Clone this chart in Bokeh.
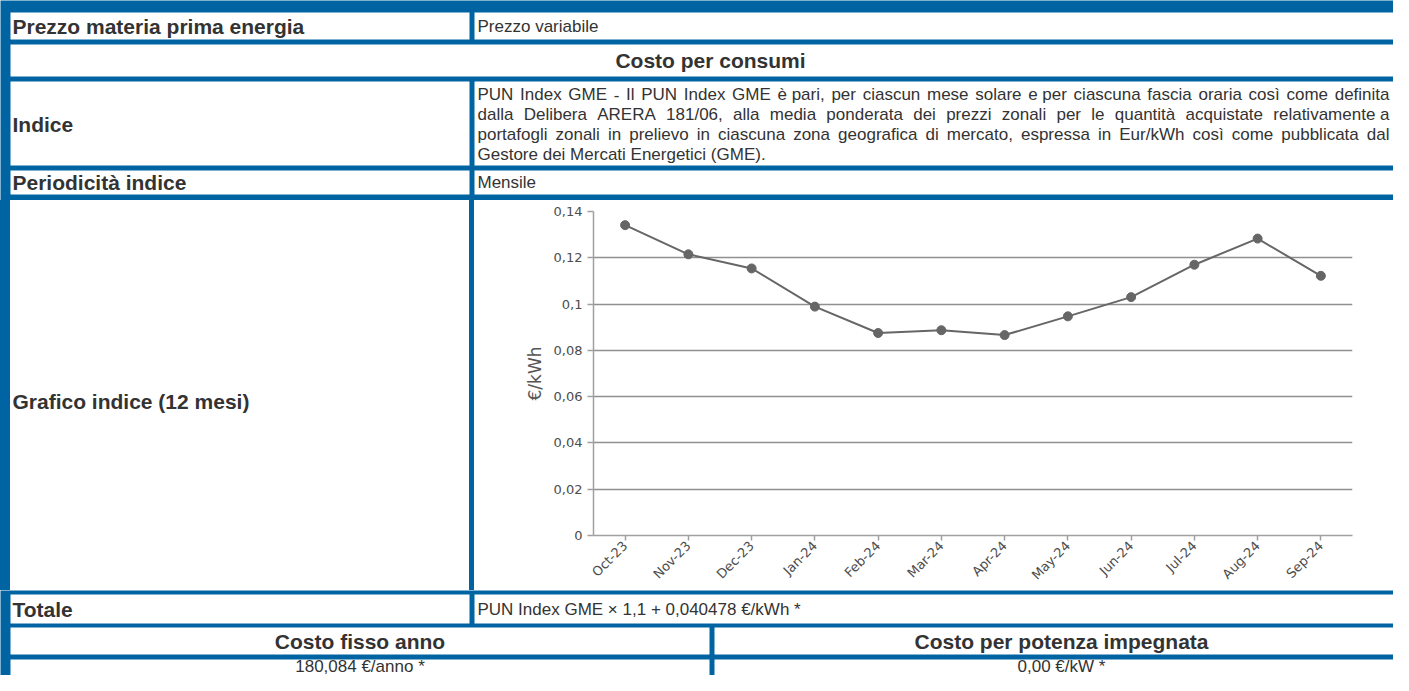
import math
from bokeh.plotting import figure
from bokeh.layouts import column, row
from bokeh.models import (Range1d, FactorRange, FixedTicker, CustomJSTickFormatter,
                          ColumnDataSource, Spacer)
from bokeh.core.properties import value
from bokeh.embed import file_html
from bokeh.resources import INLINE

# ---------------- data ----------------
months = ["Oct-23", "Nov-23", "Dec-23", "Jan-24", "Feb-24", "Mar-24",
          "Apr-24", "May-24", "Jun-24", "Jul-24", "Aug-24", "Sep-24"]
pun_values = [0.1341, 0.1215, 0.1154, 0.0989, 0.0875, 0.0887,
              0.0866, 0.0947, 0.1030, 0.1170, 0.1283, 0.1122]
y_ticks = [0.0, 0.02, 0.04, 0.06, 0.08, 0.10, 0.12, 0.14]
y_label = "€/kWh"

label_prezzo = "Prezzo materia prima energia"
value_prezzo = "Prezzo variabile"
header_consumi = "Costo per consumi"
label_indice = "Indice"
para_lines = [
    "PUN Index GME - Il PUN Index GME è pari, per ciascun mese solare e per ciascuna fascia oraria così come definita",
    "dalla Delibera ARERA 181/06, alla media ponderata dei prezzi zonali per le quantità acquistate relativamente a",
    "portafogli zonali in prelievo in ciascuna zona geografica di mercato, espressa in Eur/kWh così come pubblicata dal",
    "Gestore dei Mercati Energetici (GME).",
]
label_period = "Periodicità indice"
value_period = "Mensile"
label_grafico = "Grafico indice (12 mesi)"
label_totale = "Totale"
value_totale = "PUN Index GME × 1,1 + 0,040478 €/kWh *"
header_fisso = "Costo fisso anno"
header_potenza = "Costo per potenza impegnata"
value_fisso = "180,084 €/anno *"
value_potenza = "0,00 €/kW *"

# ---------------- style ----------------
BLUE = "#0064a3"
TXT = "#333333"
FONT = "Liberation Sans"
BOLD_SIZE = 21
REG_SIZE = 17
CHART_FONT = "DejaVu Sans"
W = 1393  # page width available

AW = {' ': 278, '!': 278, '(': 333, ')': 333, '*': 389, '+': 584, ',': 278, '-': 333,
      '.': 278, '/': 278, ':': 278, '×': 584, '€': 556,
      'A': 667, 'B': 667, 'C': 722, 'D': 722, 'E': 667, 'F': 611, 'G': 778, 'H': 722,
      'I': 278, 'J': 500, 'K': 667, 'L': 556, 'M': 833, 'N': 722, 'O': 778, 'P': 667,
      'Q': 778, 'R': 722, 'S': 667, 'T': 611, 'U': 722, 'V': 667, 'W': 944, 'X': 667,
      'Y': 667, 'Z': 611,
      'a': 556, 'b': 556, 'c': 500, 'd': 556, 'e': 556, 'f': 278, 'g': 556, 'h': 556,
      'i': 222, 'j': 222, 'k': 500, 'l': 222, 'm': 833, 'n': 556, 'o': 556, 'p': 556,
      'q': 556, 'r': 333, 's': 500, 't': 278, 'u': 556, 'v': 500, 'w': 722, 'x': 500,
      'y': 500, 'z': 500, 'à': 556, 'è': 556, 'ì': 278, 'ò': 556, 'ù': 556, 'é': 556}
for d in "0123456789":
    AW[d] = 556


def text_width(s, size):
    return sum(AW.get(c, 556) for c in s) / 1000.0 * size


def base_fig(width, height, **kw):
    p = figure(width=width, height=height, x_axis_type=None, y_axis_type=None,
               toolbar_location=None, output_backend="svg", **kw)
    p.outline_line_color = None
    return p


def panel(x0, x1, y0, y1, height=None):
    p = base_fig(x1 - x0, height if height else (y1 - y0),
                 x_range=Range1d(x0, x1), y_range=Range1d(y1, y0),
                 min_border=0, min_border_left=0, min_border_right=0,
                 min_border_top=0, min_border_bottom=0)
    p.background_fill_color = BLUE
    p.border_fill_color = BLUE
    return p


def cells(p, boxes):
    p.quad(left=[b[0] for b in boxes], right=[b[1] for b in boxes],
           top=[b[2] for b in boxes], bottom=[b[3] for b in boxes],
           fill_color="white", line_color=None)


def txt(p, xs, ys, texts, bold=False, align="left", size=None):
    if size is None:
        size = BOLD_SIZE if bold else REG_SIZE
    p.text(x=xs, y=ys, text=texts, text_font=value(FONT),
           text_font_size=f"{size}px",
           text_font_style="bold" if bold else "normal",
           text_align=align, text_baseline="middle", text_color=TXT)


def tokens(line):
    """Split a line into words; one-letter words are kept with a neighbour."""
    ws = line.split(" ")
    out = []
    i = 0
    while i < len(ws):
        w = ws[i]
        if len(w) == 1 and w.isalpha() and i + 1 < len(ws):
            out.append(w + " " + ws[i + 1])
            i += 2
            continue
        if len(w) == 1 and w.isalpha() and out:
            out[-1] = out[-1] + " " + w
        else:
            out.append(w)
        i += 1
    return out


# ---------------- top block (rows 1-4) ----------------
top = panel(0, W, 0, 200)
cells(top, [(10, 469, 12, 39), (474, W + 20, 12, 39),
            (10, W + 20, 44, 76),
            (10, 469, 81, 165), (474, W + 20, 81, 165),
            (10, 469, 170, 194), (474, W + 20, 170, 194)])
txt(top, [12, 12, 12], [26, 124, 182], [label_prezzo, label_indice, label_period], bold=True)
txt(top, [710], [60], [header_consumi], bold=True, align="center")
txt(top, [477, 477], [26, 182], [value_prezzo, value_period])

# justified paragraph
PX0, PX1 = 477, 1389
line_y = [94, 114, 134, 154]
psize = REG_SIZE
for ln in para_lines[:3]:
    ws = tokens(ln)
    nat = sum(text_width(w, 1.0) for w in ws)
    psize = min(psize, (PX1 - PX0 - 3.5 * (len(ws) - 1)) / nat)
wx, wy, wt = [], [], []
for i, ln in enumerate(para_lines):
    ws = tokens(ln)
    widths = [text_width(w, psize) for w in ws]
    if i < 3 and len(ws) > 1:
        gap = (PX1 - PX0 - sum(widths)) / (len(ws) - 1)
    else:
        gap = text_width(" ", psize)
    x = PX0
    for w, wd in zip(ws, widths):
        wx.append(x)
        wy.append(line_y[i])
        wt.append(w)
        x += wd + gap
txt(top, wx, wy, wt, size=round(psize, 2))

# ---------------- chart row ----------------
ROW_H = 390
BT, BB = 11, 49

left = base_fig(459, ROW_H, x_range=Range1d(10, 469), y_range=Range1d(541, 211),
                min_border=0, min_border_left=0, min_border_right=0,
                min_border_top=BT, min_border_bottom=BB)
left.background_fill_color = "white"
left.border_fill_color = "white"
txt(left, [12], [405], [label_grafico], bold=True)

src = ColumnDataSource(data=dict(month=months, pun=pun_values))
chart = figure(width=W - 474, height=ROW_H,
               x_range=FactorRange(factors=months, range_padding=0),
               y_range=Range1d(0, 0.14),
               toolbar_location=None, output_backend="svg",
               min_border_left=119, min_border_right=W - 1352,
               min_border_top=BT, min_border_bottom=BB)
chart.outline_line_color = None
chart.background_fill_color = "white"
chart.border_fill_color = "white"

chart.line(x="month", y="pun", source=src, line_color="#666666", line_width=2)
chart.scatter(x="month", y="pun", source=src, size=9,
              fill_color="#666666", line_color="#666666")

chart.xgrid.visible = False
chart.ygrid.grid_line_color = "#909090"
chart.ygrid.grid_line_width = 1.4
chart.yaxis.ticker = FixedTicker(ticks=y_ticks)
chart.yaxis.formatter = CustomJSTickFormatter(
    code="var v = Math.round(tick * 100) / 100; return v.toString().replace('.', ',');")
chart.yaxis.minor_tick_line_color = None
for ax in (chart.xaxis[0], chart.yaxis[0]):
    ax.axis_line_color = "#a0a0a0"
    ax.axis_line_width = 1.5
    ax.major_tick_line_color = "#a0a0a0"
    ax.major_tick_line_width = 1.5
    ax.major_tick_in = 0
    ax.major_label_text_font = CHART_FONT
    ax.major_label_text_font_size = "13px"
    ax.major_label_text_color = "#4d4d4d"
chart.xaxis.major_tick_out = 5
chart.xaxis.major_label_standoff = 3
chart.xaxis.major_label_orientation = math.pi / 4
chart.yaxis.major_tick_out = 6
chart.yaxis.major_label_standoff = 5
chart.yaxis.axis_label = y_label
chart.yaxis.axis_label_text_font = CHART_FONT
chart.yaxis.axis_label_text_font_size = "17px"
chart.yaxis.axis_label_text_font_style = "normal"
chart.yaxis.axis_label_text_color = "#555555"
chart.yaxis.axis_label_standoff = 6

chart_row = row(Spacer(width=10, height=ROW_H, styles={"background-color": BLUE}),
                left,
                Spacer(width=5, height=ROW_H, styles={"background-color": BLUE}),
                chart)

# ---------------- bottom block (rows 6-8) ----------------
BOT_H = 675 - 200 - ROW_H
bottom = panel(0, W, 603, 603 + BOT_H, height=BOT_H)
cells(bottom, [(10, 469, 607, 636), (474, W + 20, 607, 636),
               (10, 709, 640, 667), (714, W + 20, 640, 667),
               (10, 709, 672, 720), (714, W + 20, 672, 720)])
txt(bottom, [12], [621.5], [label_totale], bold=True)
txt(bottom, [477], [621.5], [value_totale])
txt(bottom, [359.5, 1061], [654, 654], [header_fisso, header_potenza], bold=True, align="center")
txt(bottom, [359.5, 1061], [679, 679], [value_fisso, value_potenza], align="center")

layout = column(top, chart_row, bottom)
open("out.html", "w").write(file_html(layout, INLINE))
